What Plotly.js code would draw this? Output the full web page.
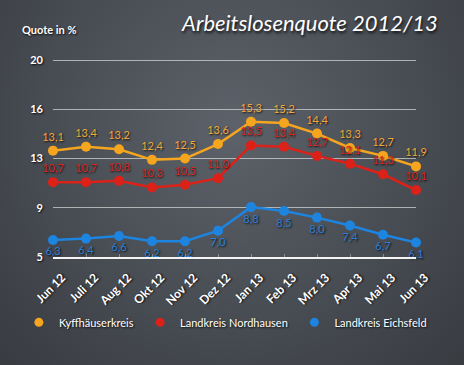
<!DOCTYPE html>
<html>
<head>
<meta charset="utf-8">
<script src="https://cdn.plot.ly/plotly-3.0.1.min.js"></script>
<style>
html,body{margin:0;padding:0;width:464px;height:365px;overflow:hidden;}
body{background: radial-gradient(ellipse at 50% 35%, #5d626a 0%, #4c5158 45%, #383b40 100%);}
#chart{width:464px;height:365px;}
</style>
</head>
<body>
<div id="chart"></div>
<script>
const months = ['Jun 12','Juli 12','Aug 12','Okt 12','Nov 12','Dez 12','Jan 13','Feb 13','Mrz 13','Apr 13','Mai 13','Jun 13'];
const kyffhaeuser = [13.1, 13.4, 13.2, 12.4, 12.5, 13.6, 15.3, 15.2, 14.4, 13.3, 12.7, 11.9];
const nordhausen  = [10.7, 10.7, 10.8, 10.3, 10.5, 11.0, 13.5, 13.4, 12.7, 12.1, 11.3, 10.1];
const eichsfeld   = [6.3, 6.4, 6.6, 6.2, 6.2, 7.0, 8.8, 8.5, 8.0, 7.4, 6.7, 6.1];
const yTickVals = [5, 8.75, 12.5, 16.25, 20];
const yTickText = ['5', '9', '13', '16', '20'];
const seriesNames = ['Kyffhäuserkreis', 'Landkreis Nordhausen', 'Landkreis Eichsfeld'];

const FONT = 'Lato, "Open Sans", sans-serif';
const SH = '1px 1px 2px rgba(0,0,0,0.85)';
const fmt = v => v.toFixed(1).replace('.', ',');

const cols = ['#f5a51e', '#dc2119', '#1d84df'];
const labelCols = ['#f2a93a', '#d9261e', '#2a7fd6'];
const data = [kyffhaeuser, nordhausen, eichsfeld];
const pos = ['top center', 'top center', 'bottom center'];

const traces = data.map((vals, i) => ({
  type: 'scatter', mode: 'lines+markers+text',
  x: months, y: vals, text: vals.map(fmt), textposition: pos[i],
  textfont: {family: FONT, size: 11, color: labelCols[i], shadow: SH},
  line: {color: cols[i], width: 2.5},
  marker: {color: cols[i], size: 10},
  cliponaxis: false, showlegend: false, hoverinfo: 'skip'
}));
const legendRefs = ['legend', 'legend2', 'legend3'];
data.forEach((vals, i) => {
  traces.push({
    type: 'scatter', mode: 'markers', x: [null], y: [null], name: seriesNames[i],
    marker: {color: cols[i], size: 9}, showlegend: true, legend: legendRefs[i]
  });
});

const legBase = (x) => ({
  x: x, y: -0.33, xref: 'paper', yref: 'paper', xanchor: 'left', yanchor: 'middle',
  orientation: 'h', bgcolor: 'rgba(0,0,0,0)', borderwidth: 0,
  font: {family: FONT, size: 11, color: '#ffffff', shadow: SH}
});

const layout = {
  width: 464, height: 365,
  margin: {l: 53, r: 48, t: 59, b: 108},
  paper_bgcolor: 'rgba(0,0,0,0)', plot_bgcolor: 'rgba(0,0,0,0)',
  font: {family: FONT, color: '#ffffff'},
  xaxis: {
    type: 'category', range: [0, 11], tickangle: -45,
    showgrid: false, zeroline: false,
    showline: true, linecolor: '#f4f4f4', linewidth: 2,
    ticks: 'inside', ticklen: 3, tickcolor: 'rgba(255,255,255,0.35)',
    ticklabelshift: 9, ticklabelstandoff: 7,
    tickfont: {family: FONT, size: 12, color: '#ffffff', weight: 'bold', shadow: SH}
  },
  yaxis: {
    range: [5, 20.08], tickvals: yTickVals, ticktext: yTickText,
    showgrid: true, gridcolor: 'rgba(230,230,230,0.65)', gridwidth: 1,
    zeroline: false, showline: false, ticks: '', ticklabelstandoff: 9,
    tickfont: {family: FONT, size: 11, color: '#ffffff', weight: 'bold', shadow: SH}
  },
  legend: legBase(-0.094),
  legend2: legBase(0.24),
  legend3: legBase(0.665),
  annotations: [
    {text: 'Quote in %', xref: 'paper', yref: 'paper', x: -0.091, y: 1.147,
     xanchor: 'left', yanchor: 'middle', showarrow: false,
     font: {family: FONT, size: 11, color: '#ffffff', weight: 'bold', shadow: SH}},
    {text: 'Arbeitslosenquote 2012/13', xref: 'paper', yref: 'paper', x: 1.066, y: 1.183,
     xanchor: 'right', yanchor: 'middle', showarrow: false,
     font: {family: FONT, size: 22, color: '#ffffff', style: 'italic', shadow: '1px 2px 3px rgba(0,0,0,0.85)'}}
  ]
};

Plotly.newPlot('chart', traces, layout, {displayModeBar: false, staticPlot: true});
</script>
</body>
</html>
